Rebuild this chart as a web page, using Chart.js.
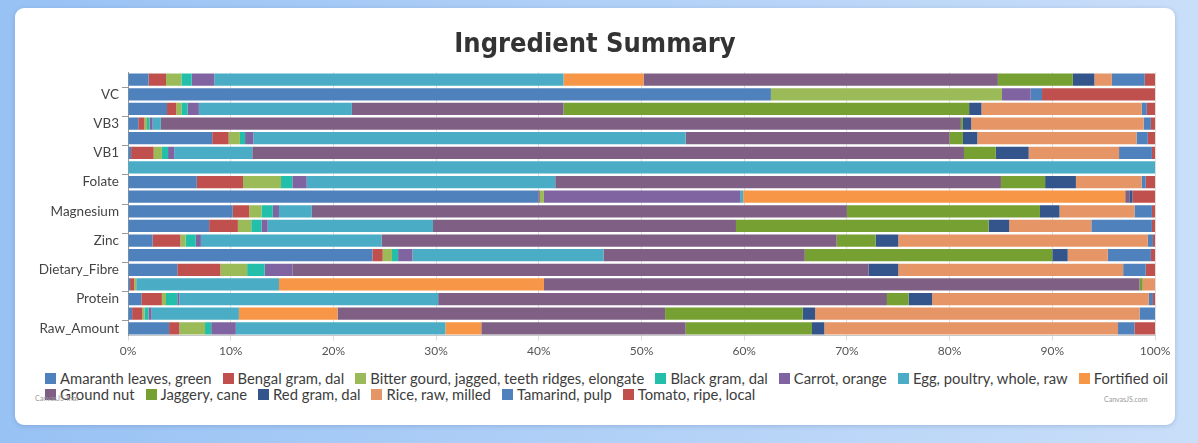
<!DOCTYPE html>
<html>
<head>
<meta charset="utf-8">
<script src="https://cdn.jsdelivr.net/npm/chart.js@4.4.1/dist/chart.umd.min.js"></script>
<style>
  body { margin: 0; width: 1198px; height: 443px; overflow: hidden;
         background: linear-gradient(to right, #98c2f4, #c9def9); font-family: Lato, sans-serif; }
  #card { position: absolute; left: 15px; top: 8px; width: 1160px; height: 417px;
          background: #fff; border-radius: 9px; box-shadow: 0 1px 4px rgba(60,90,140,0.25); }
  #chart { position: absolute; left: 15px; top: 7px; }
  #legend { position: absolute; left: 30px; top: 362px; width: 1150px; font-size: 14.8px; color: #3d3d3d; line-height: 16px; }
  .row { display: flex; white-space: nowrap; }
  .item { display: flex; align-items: center; margin-right: 11px; }
  .box { width: 11px; height: 11px; margin-right: 4px; }
  .mark { position: absolute; color: #999; font-size: 7px; }
</style>
</head>
<body>
<div id="card">
  <canvas id="chart" width="1145" height="354"></canvas>
  <div id="legend"></div>
  <div class="mark" style="left:20px; top:386px;">CanvasJS Trial</div>
  <div class="mark" style="left:1089px; top:387px;">CanvasJS.com</div>
</div>
<script>
// rows top to bottom, only every other label is shown
const nutrients = ['VE','VC','VB6','VB3','VB2','VB1','VB12','Folate','VA','Magnesium','Iron','Zinc','Calcium','Dietary_Fibre','Fat','Protein','Energy','Raw_Amount']

const ingredients = ['Amaranth leaves, green','Bengal gram, dal','Bitter gourd, jagged, teeth ridges, elongate','Black gram, dal','Carrot, orange','Egg, poultry, whole, raw','Fortified oil','Ground nut','Jaggery, cane','Red gram, dal','Rice, raw, milled','Tamarind, pulp','Tomato, ripe, local']

const amaranth  = [2.0, 62.6, 3.8, 1.0, 8.2, 0.3, 0, 6.7, 40.0, 10.2, 7.9, 2.4, 23.8, 4.8, 0.2, 1.3, 0.4, 4.0]
const bengal    = [1.7, 0, 0.9, 0.6, 1.6, 2.2, 0, 4.5, 0.1, 1.6, 2.8, 2.7, 1.0, 4.2, 0.4, 2.0, 1.0, 1.0]
const bitter    = [1.5, 22.5, 0.5, 0.25, 1.1, 0.8, 0, 3.7, 0.4, 1.2, 1.3, 0.5, 0.9, 2.6, 0.2, 0.4, 0.2, 2.5]
const blackgram = [1.0, 0, 0.6, 0.25, 0.5, 0.6, 0, 1.1, 0, 1.1, 1.0, 1.0, 0.6, 1.7, 0, 1.1, 0.4, 0.6]
const carrot    = [2.2, 2.8, 1.1, 0.3, 0.8, 0.6, 0, 1.4, 19.1, 0.6, 0.6, 0.5, 1.4, 2.7, 0, 0.2, 0.3, 2.4]
const egg       = [34.0, 0, 14.9, 0.8, 42.1, 7.6, 100, 24.2, 0.3, 3.2, 16.1, 17.6, 18.6, 0, 13.9, 25.2, 8.5, 20.4]
const oil       = [7.8, 0, 0, 0, 0, 0, 0, 0, 37.2, 0, 0, 0, 0, 0, 25.8, 0, 9.6, 3.5]
const groundnut = [34.5, 0, 20.6, 77.9, 25.7, 69.3, 0, 43.4, 0.4, 52.1, 29.5, 44.3, 19.6, 56.1, 58.0, 43.7, 31.9, 19.9]
const jaggery   = [7.3, 0, 39.5, 0.2, 1.3, 3.1, 0, 4.3, 0, 18.8, 24.6, 3.8, 24.1, 0, 0.3, 2.1, 13.4, 12.3]
const redgram   = [2.1, 0, 1.2, 0.8, 1.4, 3.2, 0, 3.0, 0.3, 1.9, 2.0, 2.2, 1.5, 2.9, 0, 2.3, 1.2, 1.2]
const rice      = [1.7, 0, 15.6, 16.8, 15.5, 8.8, 0, 6.4, 0, 7.3, 8.0, 24.3, 3.9, 21.9, 1.2, 21.1, 31.6, 28.6]
const tamarind  = [3.2, 1.1, 0.5, 0.7, 1.1, 3.2, 0, 0.4, 0, 1.7, 5.9, 0.5, 4.2, 2.2, 0, 0.4, 1.5, 1.6]
const tomato    = [1.0, 11.0, 0.8, 0.4, 0.7, 0.3, 0, 0.9, 2.2, 0.3, 0.3, 0.2, 0.4, 0.9, 0, 0.2, 0, 2.0]

const series = [amaranth, bengal, bitter, blackgram, carrot, egg, oil, groundnut, jaggery, redgram, rice, tamarind, tomato]
const colors = ['#4F81BC','#C0504E','#9BBB58','#23BFAA','#8064A1','#4AACC5','#F79647','#7F6084','#77A033','#33558B','#E59566','#4F81BC','#C0504E']

const datasets = series.map((vals, i) => ({
    label: ingredients[i],
    data: vals,
    backgroundColor: colors[i],
    borderWidth: 0,
    barPercentage: 0.84,
    categoryPercentage: 1
}))

const ctx = document.getElementById('chart').getContext('2d')
const chart = new Chart(ctx, {
    type: 'bar',
    data: { labels: nutrients, datasets: datasets },
    options: {
        indexAxis: 'y',
        responsive: false,
        animation: false,
        layout: { padding: { left: 5, right: 20, top: 0, bottom: 8 } },
        plugins: {
            legend: { display: false },
            tooltip: { enabled: false },
            title: {
                display: true,
                text: 'Ingredient Summary',
                color: '#333333',
                font: { family: '"DejaVu Sans Condensed", "DejaVu Sans"', size: 27, weight: 'bold' },
                padding: { top: 14, bottom: 11 }
            }
        },
        scales: {
            x: {
                stacked: true,
                min: 0,
                max: 100,
                ticks: { stepSize: 10, callback: v => v + '%', color: '#555', font: { family: 'Lato', size: 12 } },
                grid: { color: '#dedede', tickLength: 5 },
                border: { color: '#c8c8c8' }
            },
            y: {
                stacked: true,
                grid: {
                    drawOnChartArea: false,
                    tickLength: 6,
                    tickColor: c => c.index % 2 ? '#999' : 'rgba(0,0,0,0)'
                },
                border: { color: '#999' },
                ticks: {
                    autoSkip: false,
                    color: '#444',
                    font: { family: 'Lato', size: 13.5 },
                    callback: function (v, i) { return i % 2 ? this.getLabelForValue(v) : '' }
                },
                afterFit: s => { s.width = 93 }
            }
        }
    }
})

// legend in two rows like the original
const legend = document.getElementById('legend')
const rows = [ingredients.slice(0, 7), ingredients.slice(7)]
let k = 0
rows.forEach(names => {
    const row = document.createElement('div')
    row.className = 'row'
    names.forEach(name => {
        const item = document.createElement('div')
        item.className = 'item'
        const box = document.createElement('span')
        box.className = 'box'
        box.style.background = colors[k]
        const txt = document.createElement('span')
        txt.innerText = name
        item.appendChild(box)
        item.appendChild(txt)
        row.appendChild(item)
        k++
    })
    legend.appendChild(row)
})
</script>
</body>
</html>
